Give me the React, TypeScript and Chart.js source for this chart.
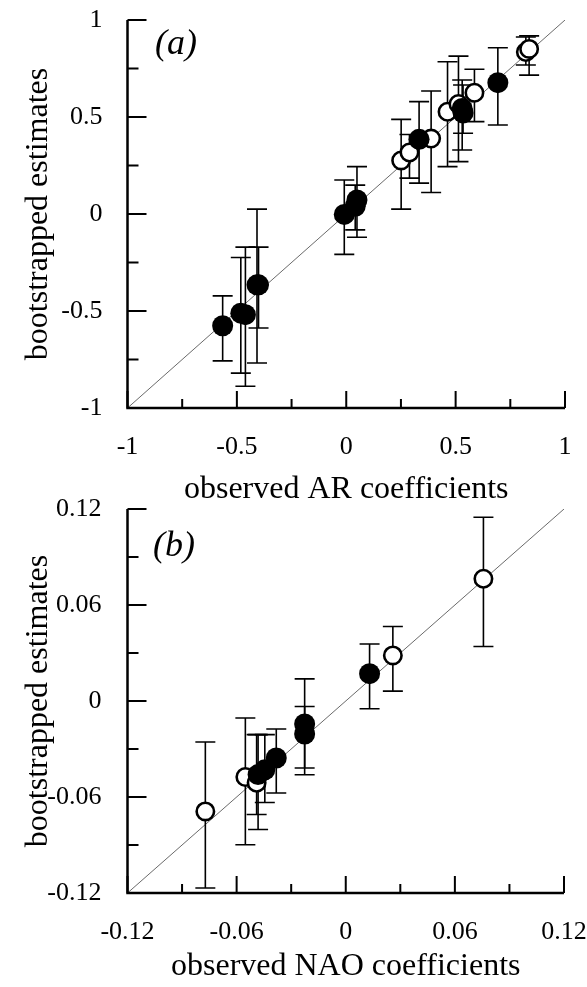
import React, { useEffect, useRef } from "react";
import { Chart, registerables } from "chart.js";

Chart.register(...registerables);

// ---------- Panel (a): AR coefficients ----------
const arFilledX = [-0.565, -0.482, -0.461, -0.408, -0.401, -0.009, 0.041, 0.049, 0.333, 0.53, 0.534, 0.693];
const arFilledY = [-0.576, -0.511, -0.519, -0.365, -0.365, -0.002, 0.04, 0.072, 0.385, 0.544, 0.521, 0.677];
const arFilledLo = [-0.757, -0.82, -0.888, -0.768, -0.588, -0.208, -0.082, -0.12, 0.159, 0.33, 0.416, 0.459];
const arFilledHi = [-0.422, -0.224, -0.171, 0.025, -0.171, 0.175, 0.149, 0.244, 0.579, 0.691, 0.665, 0.857];

const arOpenX = [0.251, 0.289, 0.388, 0.463, 0.513, 0.586, 0.821, 0.836];
const arOpenY = [0.276, 0.317, 0.389, 0.527, 0.567, 0.625, 0.835, 0.851];
const arOpenLo = [0.025, 0.185, 0.111, 0.244, 0.27, 0.476, 0.768, 0.716];
const arOpenHi = [0.488, 0.41, 0.634, 0.785, 0.814, 0.746, 0.912, 0.918];

const arRange = [-1, 1];
const arMajorTicks = [-1, -0.5, 0, 0.5, 1];
const arTickLabels = ["-1", "-0.5", "0", "0.5", "1"];
const arMinorTicks = [-0.75, -0.25, 0.25, 0.75];

// ---------- Panel (b): NAO coefficients ----------
const naoFilledX = [0.0131, -0.0226, -0.0226, -0.0382, -0.0445, -0.0482];
const naoFilledY = [0.0171, -0.0144, -0.0206, -0.0356, -0.043, -0.046];
const naoFilledLo = [-0.0048, -0.0419, -0.0461, -0.0575, -0.0634, -0.0803];
const naoFilledHi = [0.0356, 0.0138, -0.0034, -0.0175, -0.021, -0.021];

const naoOpenX = [0.0757, 0.0259, -0.0552, -0.049, -0.0772];
const naoOpenY = [0.0764, 0.0285, -0.0475, -0.0511, -0.069];
const naoOpenLo = [0.0341, 0.0062, -0.0898, -0.0709, -0.1169];
const naoOpenHi = [0.1148, 0.0466, -0.0106, -0.021, -0.0256];

const naoRange = [-0.12, 0.12];
const naoMajorTicks = [-0.12, -0.06, 0, 0.06, 0.12];
const naoTickLabels = ["-0.12", "-0.06", "0", "0.06", "0.12"];
const naoMinorTicks = [-0.09, -0.03, 0.03, 0.09];

const SERIF = "'Liberation Serif', 'Times New Roman', serif";

type Panel = {
  label: string;
  xTitle: string;
  yTitle: string;
  fx: number[]; fy: number[]; flo: number[]; fhi: number[];
  ox: number[]; oy: number[]; olo: number[]; ohi: number[];
  range: number[];
  major: number[];
  labels: string[];
  minor: number[];
  height: number;
  padTop: number;
  padRight: number;
  xAxisHeight: number;
  xTitlePad: number;
  yTickPad: number;
  labelPos: number[];
};

const panels: Panel[] = [
  {
    label: "(a)", xTitle: "observed AR coefficients", yTitle: "bootstrapped estimates",
    fx: arFilledX, fy: arFilledY, flo: arFilledLo, fhi: arFilledHi,
    ox: arOpenX, oy: arOpenY, olo: arOpenLo, ohi: arOpenHi,
    range: arRange, major: arMajorTicks, labels: arTickLabels, minor: arMinorTicks,
    height: 515, padTop: 20, padRight: 22, xAxisHeight: 107, xTitlePad: 6, yTickPad: 25,
    labelPos: [155, 45],
  },
  {
    label: "(b)", xTitle: "observed NAO coefficients", yTitle: "bootstrapped estimates",
    fx: naoFilledX, fy: naoFilledY, flo: naoFilledLo, fhi: naoFilledHi,
    ox: naoOpenX, oy: naoOpenY, olo: naoOpenLo, ohi: naoOpenHi,
    range: naoRange, major: naoMajorTicks, labels: naoTickLabels, minor: naoMinorTicks,
    height: 497, padTop: 19, padRight: 23, xAxisHeight: 94, xTitlePad: 1, yTickPad: 26,
    labelPos: [153, 57],
  },
];

const errorBarPlugin = {
  id: "errorBars",
  afterDatasetDraw(chart: any, args: any) {
    if (args.index !== 2) return;
    const { ctx, scales } = chart;
    ctx.save();
    ctx.strokeStyle = "#000";
    ctx.lineWidth = 1.6;
    chart.data.datasets.forEach((ds: any) => {
      if (!ds.errLo) return;
      ds.data.forEach((p: any, i: number) => {
        const x = scales.x.getPixelForValue(p.x);
        const y1 = scales.y.getPixelForValue(ds.errLo[i]);
        const y2 = scales.y.getPixelForValue(ds.errHi[i]);
        ctx.beginPath();
        ctx.moveTo(x, y1);
        ctx.lineTo(x, y2);
        ctx.moveTo(x - 10, y1);
        ctx.lineTo(x + 10, y1);
        ctx.moveTo(x - 10, y2);
        ctx.lineTo(x + 10, y2);
        ctx.stroke();
      });
    });
    ctx.restore();
  },
};

const axesPlugin = {
  id: "axesFrame",
  afterDraw(chart: any, _args: any, opts: any) {
    const { ctx, chartArea, scales } = chart;
    const { left, right, top, bottom } = chartArea;
    ctx.save();
    ctx.strokeStyle = "#000";
    ctx.lineWidth = 2.5;
    ctx.beginPath();
    ctx.moveTo(left, top);
    ctx.lineTo(left, bottom);
    ctx.lineTo(right, bottom);
    ctx.stroke();
    ctx.lineWidth = 2;
    ctx.beginPath();
    opts.major.forEach((v: number) => {
      const y = scales.y.getPixelForValue(v);
      ctx.moveTo(left, y);
      ctx.lineTo(left + 19, y);
      const x = scales.x.getPixelForValue(v);
      ctx.moveTo(x, bottom);
      ctx.lineTo(x, bottom - 17);
    });
    opts.minor.forEach((v: number) => {
      const y = scales.y.getPixelForValue(v);
      ctx.moveTo(left, y);
      ctx.lineTo(left + 11, y);
      const x = scales.x.getPixelForValue(v);
      ctx.moveTo(x, bottom);
      ctx.lineTo(x, bottom - 9);
    });
    ctx.stroke();
    ctx.fillStyle = "#000";
    ctx.font = `italic 36px ${SERIF}`;
    ctx.textAlign = "left";
    ctx.textBaseline = "middle";
    ctx.fillText(opts.label, opts.pos[0], opts.pos[1]);
    ctx.restore();
  },
};

function PanelChart({ p }: { p: Panel }) {
  const ref = useRef<HTMLCanvasElement>(null);
  useEffect(() => {
    if (!ref.current) return;
    const filled = p.fx.map((x, i) => ({ x, y: p.fy[i] }));
    const open = p.ox.map((x, i) => ({ x, y: p.oy[i] }));
    const diag = [
      { x: p.range[0], y: p.range[0] },
      { x: p.range[1], y: p.range[1] },
    ];
    const tickFont = { family: SERIF, size: 26 };
    const titleFont = { family: SERIF, size: 32 };
    const chart = new Chart(ref.current, {
      type: "scatter",
      data: {
        datasets: [
          {
            data: filled,
            errLo: p.flo,
            errHi: p.fhi,
            pointRadius: 10.5,
            pointBackgroundColor: "#000",
            pointBorderWidth: 0,
            pointBorderColor: "#000",
            order: 0,
          } as any,
          {
            data: open,
            errLo: p.olo,
            errHi: p.ohi,
            pointRadius: 8.7,
            pointBackgroundColor: "#fff",
            pointBorderWidth: 2.6,
            pointBorderColor: "#000",
            order: 1,
          } as any,
          {
            data: diag,
            showLine: true,
            pointRadius: 0,
            borderColor: "#444",
            borderWidth: 0.8,
            order: 2,
          },
        ],
      },
      options: {
        responsive: false,
        animation: false,
        devicePixelRatio: 1,
        events: [],
        layout: { padding: { left: 0, right: p.padRight, top: p.padTop, bottom: 0 } },
        plugins: {
          legend: { display: false },
          tooltip: { enabled: false },
          axesFrame: { major: p.major, minor: p.minor, label: p.label, pos: p.labelPos },
        } as any,
        scales: {
          x: {
            type: "linear",
            min: p.range[0],
            max: p.range[1],
            grid: { display: false, drawTicks: false, tickLength: 0 },
            border: { display: false },
            ticks: {
              color: "#000",
              font: tickFont,
              padding: 24,
              maxRotation: 0,
              autoSkip: false,
              callback: (_v: any, i: number) => p.labels[i],
            },
            afterBuildTicks: (s: any) => {
              s.ticks = p.major.map((v) => ({ value: v }));
            },
            afterFit: (s: any) => {
              s.height = p.xAxisHeight;
              s.paddingLeft = 0;
              s.paddingRight = 0;
            },
            title: {
              display: true,
              text: p.xTitle,
              color: "#000",
              font: titleFont,
              padding: { top: 0, bottom: p.xTitlePad },
            },
          },
          y: {
            type: "linear",
            min: p.range[0],
            max: p.range[1],
            grid: { display: false, drawTicks: false, tickLength: 0 },
            border: { display: false },
            ticks: {
              color: "#000",
              font: tickFont,
              padding: p.yTickPad,
              autoSkip: false,
              callback: (_v: any, i: number) => p.labels[i],
            },
            afterBuildTicks: (s: any) => {
              s.ticks = p.major.map((v) => ({ value: v }));
            },
            afterFit: (s: any) => {
              s.width = 127.5;
              s.paddingTop = 0;
              s.paddingBottom = 0;
            },
            title: {
              display: true,
              text: p.yTitle,
              color: "#000",
              font: titleFont,
              padding: { top: 19, bottom: 0 },
            },
          },
        },
      } as any,
      plugins: [errorBarPlugin, axesPlugin],
    });
    return () => chart.destroy();
  }, [p]);
  return (
    <canvas
      ref={ref}
      width={587}
      height={p.height}
      style={{ display: "block", width: 587, height: p.height }}
    />
  );
}

export default function App() {
  return (
    <div style={{ position: "absolute", left: 0, top: 0, width: 587, height: 987, background: "#fff" }}>
      <div style={{ position: "absolute", left: 0, top: 0 }}>
        <PanelChart p={panels[0]} />
      </div>
      <div style={{ position: "absolute", left: 0, top: 490 }}>
        <PanelChart p={panels[1]} />
      </div>
    </div>
  );
}
